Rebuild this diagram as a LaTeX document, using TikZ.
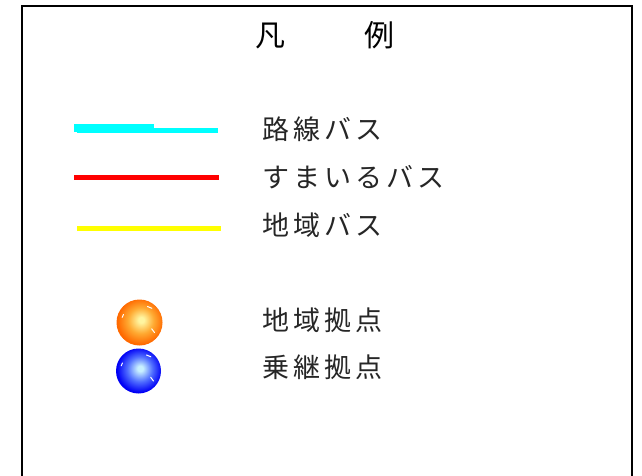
\documentclass[tikz,border=0pt]{standalone}
\usepackage{fontspec}
\newfontfamily\jpfont{Noto Sans CJK JP}
\newfontfamily\jpspaced[LetterSpace=15]{Noto Sans CJK JP}
\definecolor{lgcyan}{RGB}{0,255,255}
\definecolor{lgred}{RGB}{255,0,0}
\definecolor{lgyellow}{RGB}{255,255,0}
\definecolor{orin}{RGB}{255,245,160}
\definecolor{ormid}{RGB}{255,170,50}
\definecolor{orout}{RGB}{255,105,0}
\definecolor{blin}{RGB}{200,240,255}
\definecolor{blmid}{RGB}{80,110,255}
\definecolor{blout}{RGB}{0,0,245}
\pgfdeclareradialshading{orangeball}{\pgfpoint{2bp}{3bp}}{color(0bp)=(orin); color(3bp)=(orin); color(14bp)=(ormid); color(25bp)=(orout); color(50bp)=(orout)}
\pgfdeclareradialshading{blueball}{\pgfpoint{2bp}{3bp}}{color(0bp)=(blin); color(3bp)=(blin); color(14bp)=(blmid); color(25bp)=(blout); color(50bp)=(blout)}
\tikzset{
  label/.style={font=\jpspaced\fontsize{27}{27}\selectfont, anchor=west, inner sep=0pt, text=black!85},
  titletext/.style={font=\jpfont\fontsize{30}{30}\selectfont, inner sep=0pt, text=black},
  frame/.style={draw=black, line width=2pt},
  ballbase/.style={circle, inner sep=0pt, minimum size=46pt},
  glint/.style={draw=white, line width=1pt, line cap=round}
}
\begin{document}
\begin{tikzpicture}[x=1pt,y=-1pt]
\useasboundingbox (0,0) rectangle (642,476);
\clip (0,0) rectangle (642,476);
\fill[white] (0,0) rectangle (642,476);
\draw[frame] (22,6) rectangle (632,500);
\node[titletext] (title) at (325,35) {凡\hspace{80pt}例};
% legend lines
\fill[lgcyan] (74,124) rectangle (154,132);
\fill[lgcyan] (77,128.5) rectangle (218,133);
\fill[lgred] (74,175) rectangle (219,180);
\fill[lgyellow] (77,226) rectangle (221,230.5);
\node[label] (l1) at (262,129) {路線バス};
\node[label] (l2) at (262,177) {すまいるバス};
\node[label] (l3) at (262,225) {地域バス};
% balls
\node[ballbase, shading=orangeball] (b1) at (139.5,322.5) {};
\node[ballbase, shading=blueball, minimum size=45pt] (b2) at (138.5,371) {};
\draw[glint] ([shift={(-16,-8)}]b1.center) arc[start angle=210, end angle=200, radius=18];
\draw[glint] ([shift={(8,-16)}]b1.center) arc[start angle=120, end angle=105, radius=18];
\draw[glint] ([shift={(15,10)}]b1.center) arc[start angle=-30, end angle=-45, radius=18];
\draw[glint] ([shift={(-16,-8)}]b2.center) arc[start angle=210, end angle=200, radius=18];
\draw[glint] ([shift={(8,-16)}]b2.center) arc[start angle=120, end angle=105, radius=18];
\draw[glint] ([shift={(15,10)}]b2.center) arc[start angle=-30, end angle=-45, radius=18];
\node[label] (l4) at (262,320) {地域拠点};
\node[label] (l5) at (262,367) {乗継拠点};
\end{tikzpicture}
\end{document}
